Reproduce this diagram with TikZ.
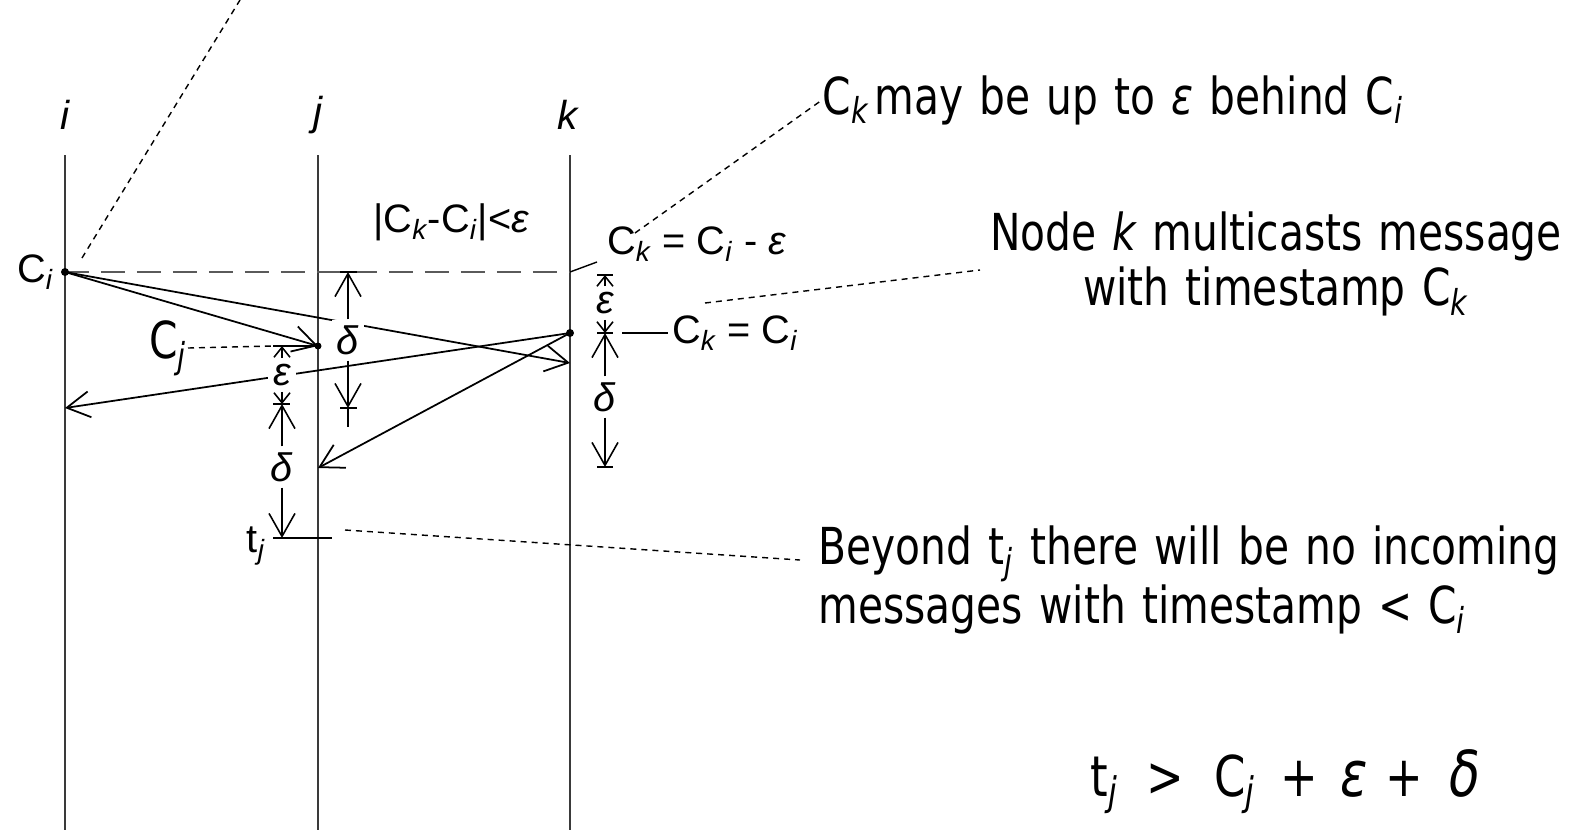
\documentclass[tikz,border=0pt]{standalone}
\usepackage{fontspec}
\setmainfont{Liberation Sans}
\newfontfamily\notefont[FakeStretch=0.80, WordSpace=1.25]{DejaVu Sans}
\definecolor{linecol}{HTML}{3a3a3a}
\definecolor{dashcol}{HTML}{5a5a5a}
\newcommand{\lsub}[1]{\textsubscript{\itshape #1}}
\usetikzlibrary{arrows.meta}

\tikzset{
  lifeline/.style={linecol, line width=0.6pt},
  msg/.style={black, line width=0.5pt, -{Straight Barb[length=2.3mm,width=2.6mm]}},
  dimbig/.style={black, line width=0.45pt, -{Straight Barb[length=2.3mm,width=2.6mm]}},
  dimsmall/.style={black, line width=0.45pt, -{Straight Barb[length=1mm,width=1.6mm]}},
  tick/.style={black, line width=0.5pt},
  leader/.style={black, line width=0.4pt, dash pattern=on 0.6mm off 0.5mm},
  lbl/.style={font=\fontsize{11.3}{13}\selectfont, inner sep=1pt},
  dimlbl/.style={lbl, fill=white, inner sep=1.5pt},
  note/.style={font=\notefont\fontsize{14.5}{15.6}\selectfont, inner sep=0pt},
}

\begin{document}
\begin{tikzpicture}
\useasboundingbox (0,0) rectangle (15.75,8.3);

% === LIFELINES i, j, k ===
\node[lbl, font=\fontsize{11.5}{13}\selectfont\itshape] (li) at (0.65,7.15) {i};
\node[lbl, font=\fontsize{11.5}{13}\selectfont\itshape] (lj) at (3.18,7.15) {j};
\node[lbl, font=\fontsize{11.5}{13}\selectfont\itshape] (lk) at (5.68,7.15) {k};
\coordinate (itop) at (0.65,6.75); \coordinate (ibot) at (0.65,0);
\coordinate (jtop) at (3.18,6.75); \coordinate (jbot) at (3.18,0);
\coordinate (ktop) at (5.70,6.75); \coordinate (kbot) at (5.70,0);
\draw[lifeline] (itop) -- (ibot);
\draw[lifeline] (jtop) -- (jbot);
\draw[lifeline] (ktop) -- (kbot);

% === EVENTS AND MESSAGES ===
\coordinate (ci) at (0.65,5.58);
\coordinate (cj) at (3.18,4.84);
\coordinate (ck) at (5.70,4.97);
\coordinate (kin) at (5.70,4.67);
\coordinate (iin) at (0.65,4.22);
\coordinate (jin) at (3.18,3.62);
\coordinate (kcl) at (5.70,5.58);

\draw[dashcol, line width=0.7pt, dash pattern=on 2.4mm off 1.2mm] (ci) -- (kcl);
\draw[msg] (ci) -- (cj);
\draw[msg] (ci) -- (kin);
\draw[msg] (ck) -- (iin);
\draw[msg] (ck) -- (jin);
\fill (ci) circle (0.4mm);
\fill (cj) circle (0.35mm);
\fill (ck) circle (0.4mm);

\node[lbl, anchor=east] (cilbl) at (0.58,5.58) {C\lsub{i}};
\node[lbl] (diff) at (4.51,6.08) {|C\lsub{k}-C\lsub{i}|<{\itshape ε}};
\node[lbl, anchor=west] (cklow) at (6.03,5.86) {C\lsub{k} = C\lsub{i} - {\itshape ε}};
\node[lbl, anchor=west] (ckeq) at (6.68,4.97) {C\lsub{k} = C\lsub{i}};
\coordinate (cklowend) at (5.97,5.68);
\draw[black, line width=0.4pt] (kcl) -- (cklowend);

% === DELTA ON j (right) ===
\node[dimlbl] (da) at (3.48,4.90) {\itshape δ};
\coordinate (datop) at (3.48,5.58);
\coordinate (dabot) at (3.48,4.22);
\draw[dimbig] (da) -- (datop);
\draw[dimbig] (da) -- (dabot);
\draw[tick] (3.40,5.58) -- (3.57,5.58);
\draw[tick] (3.40,4.22) -- (3.57,4.22);
\draw[tick] (dabot) -- (3.48,4.03);

% === EPSILON + DELTA ON j (left) ===
\coordinate (ebtop) at (2.82,4.84);
\coordinate (ebmid) at (2.82,4.26);
\coordinate (ebbot) at (2.82,2.92);
\node[dimlbl] (eb) at (2.82,4.55) {\itshape ε};
\node[dimlbl] (db) at (2.82,3.63) {\itshape δ};
\draw[dimsmall] (eb) -- (ebtop);
\draw[dimsmall] (eb) -- (ebmid);
\draw[dimbig] (db) -- (ebmid);
\draw[dimbig] (db) -- (ebbot);
\draw[tick] (2.73,4.84) -- (cj);
\draw[tick] (2.73,4.26) -- (2.90,4.26);
\coordinate (tjend) at (3.32,2.92);
\draw[tick] (2.73,2.92) -- (tjend);
\node[lbl, anchor=east] (tj) at (2.70,2.84) {t\lsub{j}};

% === EPSILON + DELTA ON k (right) ===
\coordinate (ectop) at (6.05,5.55);
\coordinate (ecmid) at (6.05,4.97);
\coordinate (ecbot) at (6.05,3.63);
\node[dimlbl] (ec) at (6.05,5.27) {\itshape ε};
\node[dimlbl] (dc) at (6.05,4.33) {\itshape δ};
\draw[dimsmall] (ec) -- (ectop);
\draw[dimsmall] (ec) -- (ecmid);
\draw[dimbig] (dc) -- (ecmid);
\draw[dimbig] (dc) -- (ecbot);
\draw[tick] (5.97,5.55) -- (6.13,5.55);
\draw[tick] (5.97,4.97) -- (6.13,4.97);
\draw[tick] (5.97,3.63) -- (6.13,3.63);
\draw[tick] (6.22,4.97) -- (ckeq.west);

% === NOTES ===
\node[note, anchor=west] (nbehind) at (8.22,7.30)
  {C\lsub{k}\hspace{0.5mm}may be up to {\itshape ε} behind C\lsub{i}};
\node[note, align=center] (nmulti) at (12.76,5.66)
  {Node {\itshape k} multicasts message\\with timestamp C\lsub{k}};
\node[note, align=left, anchor=west] (nbeyond) at (8.18,2.50)
  {Beyond t\lsub{j} there will be no incoming\\messages with timestamp < C\lsub{i}};
\node[note, anchor=east] (ncj) at (1.88,4.82) {C\lsub{j}};
\node[note, anchor=west, font=\notefont\fontsize{16}{18}\selectfont] (nform) at (10.90,0.48)
  {t\lsub{j}\hspace{1mm} > \hspace{1.2mm}C\lsub{j}\hspace{0.6mm} + \hspace{0.5mm}{\fontsize{18}{18}\selectfont\itshape ε} + \hspace{0.8mm}{\fontsize{18}{18}\selectfont\itshape δ}};

% === LEADERS ===
\coordinate (topend) at (2.40,8.30);
\coordinate (cistart) at (0.82,5.72);
\draw[leader] (cistart) -- (topend);
\draw[leader] (6.35,5.97) -- (nbehind.west);
\draw[leader] (7.05,5.27) -- (9.80,5.60);
\draw[leader] (ncj.east) -- (2.73,4.84);
\draw[leader] (3.45,3.00) -- (8.00,2.70);

\end{tikzpicture}
\end{document}
